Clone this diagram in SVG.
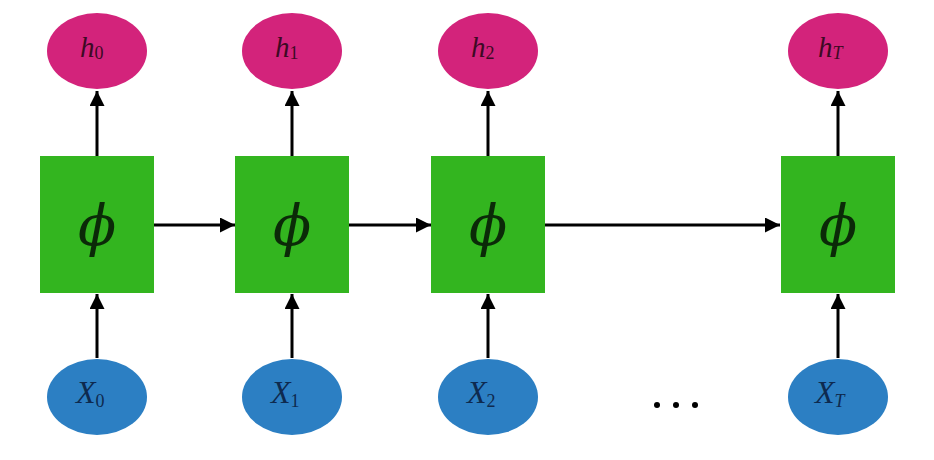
<svg xmlns="http://www.w3.org/2000/svg" width="934" height="460" viewBox="0 0 934 460">
<defs>
<style>
.h{fill:#d3237b}
.x{fill:#2c7fc3}
.b{fill:#33b51f}
.c{stroke:#000;stroke-width:3;fill:none}
.ht{font-family:"Liberation Serif","DejaVu Serif",serif;font-style:italic;fill:#3d0a24}
.xt{font-family:"Liberation Serif","DejaVu Serif",serif;font-style:italic;fill:#0e2a4f}
.sub{font-family:"Liberation Serif","DejaVu Serif",serif;font-style:normal;font-size:18px}
.subi{font-family:"Liberation Serif","DejaVu Serif",serif;font-style:italic;font-size:18px}
.phi{font-family:"DejaVu Serif","Liberation Serif",serif;font-style:italic;font-size:56px;fill:#0b2a08}
</style>
<marker id="ah" viewBox="0 0 10 10" refX="10" refY="5" markerWidth="5" markerHeight="5" orient="auto" markerUnits="strokeWidth">
<path d="M0,0 L10,5 L0,10 Z" fill="#000"/>
</marker>
</defs>
<rect width="934" height="460" fill="#fff"/>
<g id="connectors" class="c" marker-end="url(#ah)">
<line x1="97" y1="156" x2="97" y2="91"/>
<line x1="292" y1="156" x2="292" y2="91"/>
<line x1="488" y1="156" x2="488" y2="91"/>
<line x1="838" y1="156" x2="838" y2="91"/>
<line x1="97" y1="358" x2="97" y2="294"/>
<line x1="292" y1="358" x2="292" y2="294"/>
<line x1="488" y1="358" x2="488" y2="294"/>
<line x1="838" y1="358" x2="838" y2="294"/>
<line x1="154" y1="225" x2="235" y2="225"/>
<line x1="349" y1="225" x2="431" y2="225"/>
<line x1="545" y1="225" x2="780" y2="225"/>
</g>
<g id="h0"><ellipse class="h" cx="97" cy="51" rx="50" ry="38"/><text class="ht" x="80" y="57" font-size="29">h<tspan class="sub" dy="2">0</tspan></text></g>
<g id="h1"><ellipse class="h" cx="292" cy="51" rx="50" ry="38"/><text class="ht" x="275" y="57" font-size="29">h<tspan class="sub" dy="2">1</tspan></text></g>
<g id="h2"><ellipse class="h" cx="488" cy="51" rx="50" ry="38"/><text class="ht" x="471" y="57" font-size="29">h<tspan class="sub" dy="2">2</tspan></text></g>
<g id="hT"><ellipse class="h" cx="838" cy="51" rx="50" ry="38"/><text class="ht" x="818" y="57" font-size="29">h<tspan class="subi" dy="2">T</tspan></text></g>
<g id="phi0"><rect class="b" x="40" y="156" width="114" height="137"/><text class="phi" x="97" y="245" text-anchor="middle">ϕ</text></g>
<g id="phi1"><rect class="b" x="235" y="156" width="114" height="137"/><text class="phi" x="292" y="245" text-anchor="middle">ϕ</text></g>
<g id="phi2"><rect class="b" x="431" y="156" width="114" height="137"/><text class="phi" x="488" y="245" text-anchor="middle">ϕ</text></g>
<g id="phiT"><rect class="b" x="781" y="156" width="114" height="137"/><text class="phi" x="838" y="245" text-anchor="middle">ϕ</text></g>
<g id="x0"><ellipse class="x" cx="97" cy="397" rx="50" ry="38"/><text class="xt" x="76" y="403" font-size="32">X<tspan class="sub" dy="4">0</tspan></text></g>
<g id="x1"><ellipse class="x" cx="292" cy="397" rx="50" ry="38"/><text class="xt" x="271" y="403" font-size="32">X<tspan class="sub" dy="4">1</tspan></text></g>
<g id="x2"><ellipse class="x" cx="488" cy="397" rx="50" ry="38"/><text class="xt" x="467" y="403" font-size="32">X<tspan class="sub" dy="4">2</tspan></text></g>
<g id="xT"><ellipse class="x" cx="838" cy="397" rx="50" ry="38"/><text class="xt" x="815" y="403" font-size="32">X<tspan class="subi" dy="4">T</tspan></text></g>
<g id="dots" fill="#000"><circle cx="657" cy="405" r="3"/><circle cx="676" cy="405" r="3"/><circle cx="695" cy="405" r="3"/></g>
</svg>
